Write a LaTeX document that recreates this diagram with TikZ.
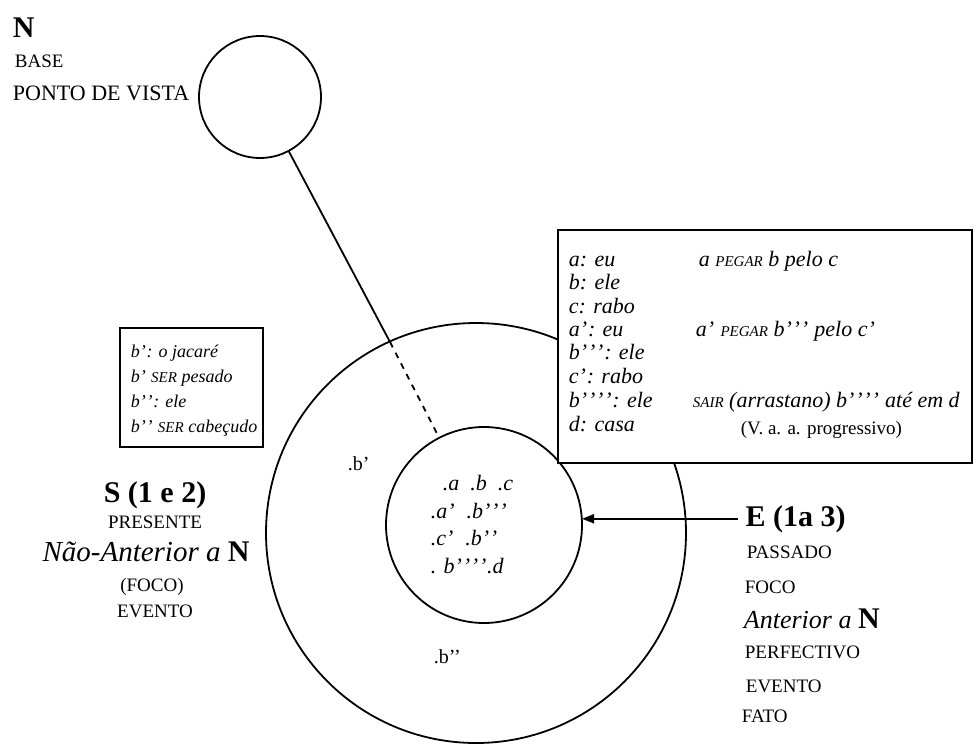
\documentclass[tikz,border=0pt]{standalone}
\usepackage{fontspec}
\setmainfont{Liberation Serif}
\usetikzlibrary{arrows.meta}

\newcommand{\verbo}[1]{{\fontsize{7.5}{8}\selectfont #1}}
\newcommand{\lin}{’\kern0.4pt}
\newcommand{\bigN}{{\fontsize{15}{17}\selectfont\bfseries\upshape N}}

\tikzset{
  caps/.style={anchor=base west,font=\fontsize{9.5}{11}\selectfont},
  capsmid/.style={anchor=base,font=\fontsize{9.5}{11}\selectfont},
  head/.style={font=\fontsize{15}{17}\selectfont\bfseries},
  notetext/.style={anchor=base west,font=\fontsize{9}{11.8}\selectfont\itshape,inner sep=0},
  keytext/.style={anchor=base west,font=\fontsize{11}{12}\selectfont\itshape,inner sep=0},
  dotlabel/.style={anchor=base west,font=\fontsize{11}{13}\selectfont\itshape,inner sep=0},
  ring/.style={circle,draw,inner sep=0,outer sep=0},
  frame/.style={draw,fill=white,anchor=north west,inner sep=0,outer sep=0},
}

\begin{document}
\begin{tikzpicture}[x=0.5pt,y=-0.5pt,line width=0.9pt]
\useasboundingbox (0,0) rectangle (974,744);

% the three circles
\node (view) [ring,minimum size=61pt] at (260,97) {};
\node (outer) [ring,minimum size=210pt] at (476,533) {};
\node (inner) [ring,minimum size=98pt] at (484,525) {};

\coordinate (cut) at (390,342);
\draw (view) -- (cut);
\draw [dashed] (cut) -- (inner);

% N
\node (n) [head,anchor=base west,inner sep=0] at (12,37) {N};
\node (base) [caps,inner sep=0] at (14,67) {BASE};
\node (vista) [caps,inner sep=0,font=\fontsize{11}{12}\selectfont] at (12,100) {PONTO DE VISTA};

% boxes
\node (note) [frame,minimum width=71.5pt,minimum height=59.5pt] at (120,328) {};
\node (key) [frame,minimum width=207pt,minimum height=116.5pt] at (558,230) {};

\node (n1) [notetext] at (130,357) {b\lin: o jacaré};
\node (n2) [notetext] at (130,382) {b\lin\ \verbo{SER} pesado};
\node (n3) [notetext] at (130,407) {b\lin\lin: ele};
\node (n4) [notetext] at (130,432) {b\lin\lin\ \verbo{SER} cabeçudo};

\node (k1) [keytext] at (568,266) {a: eu};
\node (k2) [keytext] at (568,289) {b: ele};
\node (k3) [keytext] at (568,313) {c: rabo};
\node (k4) [keytext] at (568,336) {a\lin: eu};
\node (k5) [keytext] at (568,359) {b\lin\lin\lin: ele};
\node (k6) [keytext] at (568,383) {c\lin: rabo};
\node (k7) [keytext] at (568,407) {b\lin\lin\lin\lin: ele};
\node (k8) [keytext] at (568,431) {d: casa};

\node (r1) [keytext] at (698,266) {a \verbo{PEGAR} b pelo c};
\node (r2) [keytext] at (695,336) {a\lin\ \verbo{PEGAR} b\lin\lin\lin\ pelo c\lin};
\node (r3) [keytext] at (692,407) {\verbo{SAIR} (arrastano) b\lin\lin\lin\lin\ até em d};
\node (r4) [anchor=base west,inner sep=0,font=\fontsize{9.5}{11.8}\selectfont] at (740,434) {(V. a. a. progressivo)};

% points in the circles
\node (pa) [dotlabel] at (442,490) {.a \ .b \ .c};
\node (pb) [dotlabel] at (430,518) {.a\lin\ \ .b\lin\lin\lin};
\node (pc) [dotlabel] at (430,545) {.c\lin\ \ .b\lin\lin};
\node (pd) [dotlabel] at (430,573) {. b\lin\lin\lin\lin.d};
\node (bp) [anchor=base west,inner sep=0,font=\fontsize{10}{12}\selectfont] at (347,470) {.b’};
\node (bpp) [anchor=base west,inner sep=0,font=\fontsize{10}{12}\selectfont] at (433,663) {.b’’};

% S
\node (s) [head,anchor=base] at (155,502) {S (1 e 2)};
\node (s1) [capsmid] at (155,528) {PRESENTE};
\node (s2) [anchor=base,font=\fontsize{14.5}{16}\selectfont\itshape] at (146,561) {Não-Anterior a \bigN};
\node (s3) [capsmid] at (152,591) {(FOCO)};
\node (s4) [capsmid] at (155,617) {EVENTO};

% E
\node (e) [head,anchor=base west] at (738,526) {E (1a 3)};
\node (e1) [caps,inner sep=0] at (746,558) {PASSADO};
\node (e2) [caps,inner sep=0] at (744,593) {FOCO};
\node (e3) [anchor=base west,inner sep=0,font=\fontsize{13}{15}\selectfont\itshape] at (743,628) {Anterior a \bigN};
\node (e4) [caps,inner sep=0] at (744,658) {PERFECTIVO};
\node (e5) [caps,inner sep=0] at (745,692) {EVENTO};
\node (e6) [caps,inner sep=0] at (741,722) {FATO};

\draw [-{Triangle[length=6pt,width=4.5pt]}] (e.west) -- (e.west -| inner.east);
\end{tikzpicture}
\end{document}
